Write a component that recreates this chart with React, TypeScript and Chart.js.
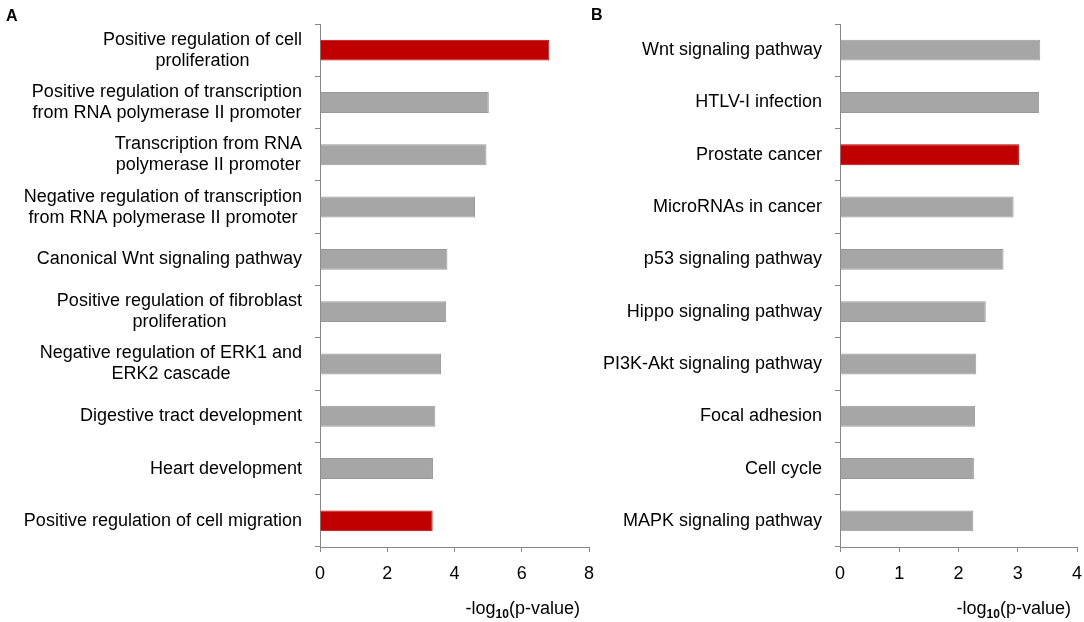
import React, { useEffect, useRef } from "react";
import { Chart, registerables } from "chart.js";

Chart.register(...registerables);

// ---------- Data ----------
const categoriesA: string[][] = [
  ["Positive regulation of cell", "proliferation"],
  ["Positive regulation of transcription", "from RNA polymerase II promoter"],
  ["Transcription from RNA", "polymerase II promoter"],
  ["Negative regulation of transcription", "from RNA polymerase II promoter"],
  ["Canonical Wnt signaling pathway"],
  ["Positive regulation of fibroblast", "proliferation"],
  ["Negative regulation of ERK1 and", "ERK2 cascade"],
  ["Digestive tract development"],
  ["Heart development"],
  ["Positive regulation of cell migration"],
];
const valuesA = [6.82, 5.02, 4.95, 4.61, 3.79, 3.75, 3.6, 3.43, 3.36, 3.35];
const highlightedA = [0, 9];
const axisMaxA = 8;
const tickStepA = 2;

const categoriesB: string[][] = [
  ["Wnt signaling pathway"],
  ["HTLV-I infection"],
  ["Prostate cancer"],
  ["MicroRNAs in cancer"],
  ["p53 signaling pathway"],
  ["Hippo signaling pathway"],
  ["PI3K-Akt signaling pathway"],
  ["Focal adhesion"],
  ["Cell cycle"],
  ["MAPK signaling pathway"],
];
const valuesB = [3.38, 3.36, 3.02, 2.93, 2.76, 2.46, 2.3, 2.28, 2.26, 2.25];
const highlightedB = [2];
const axisMaxB = 4;
const tickStepB = 1;

// ---------- Styles ----------
const FONT = '"Liberation Sans", Arial, Helvetica, sans-serif';
const RED = "#C00000";
const GRAY = "#A6A6A6";
const GRAY_BORDER = "#9A9A9A";
const AXIS = "#868686";

type PanelProps = {
  categories: string[][];
  values: number[];
  highlighted: number[];
  axisMax: number;
  step: number;
  left: number;
  width: number;
  plotLeft: number;
  plotRight: number;
};

function BarPanel(props: PanelProps) {
  const ref = useRef<HTMLCanvasElement | null>(null);
  useEffect(() => {
    const { categories, values, highlighted, axisMax, step, width, plotLeft, plotRight } = props;
    const labelPlugin = {
      id: "centeredLabels",
      afterDraw(chart: any) {
        const ctx = chart.ctx as CanvasRenderingContext2D;
        const ys = chart.scales.y;
        ctx.save();
        ctx.font = `18px ${FONT}`;
        ctx.fillStyle = "#000";
        ctx.textAlign = "center";
        ctx.textBaseline = "middle";
        const right = chart.chartArea.left - 18;
        categories.forEach((lines, i) => {
          const cy = ys.getPixelForValue(i);
          const maxW = Math.max(...lines.map((l) => ctx.measureText(l).width));
          const cx = right - maxW / 2;
          lines.forEach((l, j) => {
            ctx.fillText(l, cx, cy + (j - (lines.length - 1) / 2) * 21);
          });
        });
        ctx.restore();
      },
    };
    const chart = new Chart(ref.current as HTMLCanvasElement, {
      type: "bar",
      data: {
        labels: categories.map((l) => l.join(" ")),
        datasets: [
          {
            data: values,
            backgroundColor: values.map((_, i) => (highlighted.includes(i) ? RED : GRAY)),
            borderColor: values.map((_, i) => (highlighted.includes(i) ? RED : GRAY_BORDER)),
            borderWidth: 1,
            barPercentage: 0.4,
            categoryPercentage: 1,
          },
        ],
      },
      options: {
        indexAxis: "y",
        animation: false,
        responsive: false,
        layout: { padding: { left: 0, right: width - plotRight, top: 24, bottom: 0 } },
        plugins: { legend: { display: false }, tooltip: { enabled: false } },
        scales: {
          y: {
            type: "category",
            offset: true,
            grid: { offset: true, drawOnChartArea: false, drawTicks: true, tickLength: 5, color: AXIS },
            border: { color: AXIS, width: 1 },
            ticks: { display: false },
            afterFit: (s: any) => {
              s.width = plotLeft;
              s.paddingTop = 0;
              s.paddingBottom = 0;
            },
          },
          x: {
            type: "linear",
            min: 0,
            max: axisMax,
            ticks: { stepSize: step, color: "#000", font: { family: FONT, size: 18 }, padding: 11 },
            grid: { drawOnChartArea: false, drawTicks: true, tickLength: 5, color: AXIS },
            border: { color: AXIS, width: 1 },
            afterFit: (s: any) => {
              s.height = 75;
              s.paddingLeft = 0;
              s.paddingRight = 0;
            },
          },
        },
      } as any,
      plugins: [labelPlugin],
    });
    return () => chart.destroy();
  }, []);
  return (
    <canvas
      ref={ref}
      width={props.width}
      height={622}
      style={{ position: "absolute", left: props.left, top: 0, width: props.width, height: 622, display: "block" }}
    />
  );
}

function AxisTitle({ right, top }: { right: number; top: number }) {
  return (
    <div
      style={{
        position: "absolute",
        right: 1084 - right,
        top,
        fontFamily: FONT,
        fontSize: 18,
        lineHeight: "22px",
        whiteSpace: "nowrap",
        color: "#000",
      }}
    >
      -log
      <sub style={{ fontSize: 12, fontWeight: "bold", lineHeight: 0, verticalAlign: "-4px" }}>10</sub>
      (p-value)
    </div>
  );
}

function PanelLetter({ x, y, text }: { x: number; y: number; text: string }) {
  return (
    <div
      style={{
        position: "absolute",
        left: x,
        top: y,
        fontFamily: FONT,
        fontSize: 16,
        fontWeight: "bold",
        lineHeight: "18px",
        color: "#000",
      }}
    >
      {text}
    </div>
  );
}

export default function App() {
  return (
    <div
      style={{
        position: "absolute",
        left: 0,
        top: 0,
        width: 1084,
        height: 622,
        background: "#fff",
        overflow: "hidden",
      }}
    >
      <BarPanel
        categories={categoriesA}
        values={valuesA}
        highlighted={highlightedA}
        axisMax={axisMaxA}
        step={tickStepA}
        left={0}
        width={600}
        plotLeft={320}
        plotRight={589}
      />
      <BarPanel
        categories={categoriesB}
        values={valuesB}
        highlighted={highlightedB}
        axisMax={axisMaxB}
        step={tickStepB}
        left={600}
        width={484}
        plotLeft={240}
        plotRight={477}
      />
      <AxisTitle right={580} top={597} />
      <AxisTitle right={1071} top={597} />
      <PanelLetter x={6} y={7} text="A" />
      <PanelLetter x={591} y={6} text="B" />
    </div>
  );
}
